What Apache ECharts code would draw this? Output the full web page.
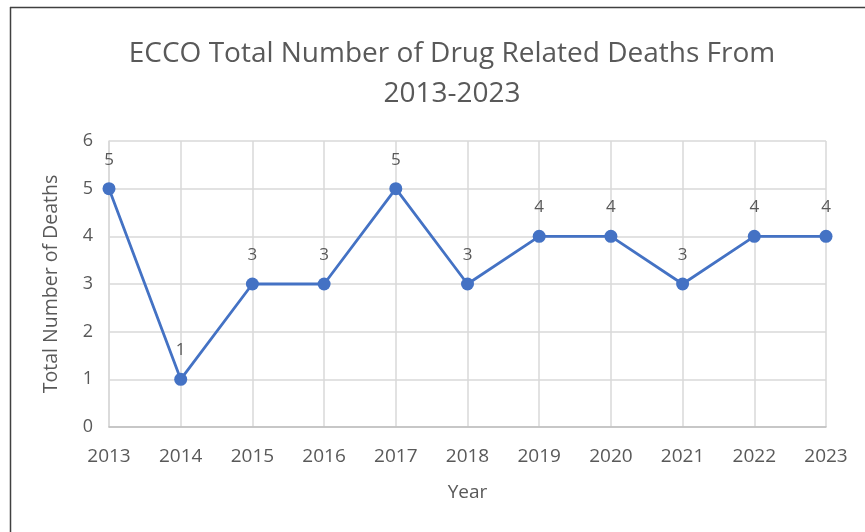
<!DOCTYPE html>
<html>
<head>
<meta charset="utf-8">
<script src="https://cdn.jsdelivr.net/npm/echarts@6/dist/echarts.min.js"></script>
<style>
html,body{margin:0;padding:0;background:#fff;}
#main{width:865px;height:532px;}
</style>
</head>
<body>
<div id="main"></div>
<script>
const years = ['2013','2014','2015','2016','2017','2018','2019','2020','2021','2022','2023'];
const deaths = [5,1,3,3,5,3,4,4,3,4,4];
const yTicks = [0,1,2,3,4,5,6];

const chart = echarts.init(document.getElementById('main'));
const font = '"Open Sans", "Liberation Sans", sans-serif';
chart.setOption({
  animation:false,
  backgroundColor:'#fff',
  textStyle:{fontFamily:font},
  title:{
    text:'ECCO Total Number of Drug Related Deaths From\n2013-2023',
    left:447, top:29, textAlign:'center',
    textStyle:{fontFamily:font, fontSize:28, fontWeight:'normal', color:'#595959', lineHeight:40}
  },
  graphic:[
    {type:'line', shape:{x1:10,y1:7.5,x2:865,y2:7.5}, style:{stroke:'#404040', lineWidth:1.5}},
    {type:'line', shape:{x1:10.5,y1:7,x2:10.5,y2:532}, style:{stroke:'#404040', lineWidth:1.5}}
  ],
  grid:{left:109, right:39, top:141, bottom:105, containLabel:false},
  xAxis:{
    type:'category', data:years, boundaryGap:false,
    name:'Year', nameLocation:'middle', nameGap:56,
    nameTextStyle:{fontFamily:font, fontSize:19, color:'#595959'},
    axisLine:{lineStyle:{color:'#bfbfbf', width:1.5}},
    axisTick:{show:false},
    axisLabel:{fontFamily:font, fontSize:19, color:'#595959', margin:20},
    splitLine:{show:true, lineStyle:{color:'#d9d9d9', width:1.5}}
  },
  yAxis:{
    type:'value', min:yTicks[0], max:yTicks[yTicks.length-1], interval:1,
    name:'Total Number of Deaths', nameLocation:'middle', nameGap:48,
    nameTextStyle:{fontFamily:font, fontSize:19.5, color:'#595959'},
    axisLine:{show:true, lineStyle:{color:'#d9d9d9', width:1.5}},
    axisTick:{show:false},
    axisLabel:{fontFamily:font, fontSize:18, color:'#595959', margin:16},
    splitLine:{show:true, lineStyle:{color:'#d9d9d9', width:1.5}}
  },
  series:[{
    type:'line', data:deaths,
    symbol:'circle', symbolSize:13,
    lineStyle:{color:'#4472C4', width:2.8},
    itemStyle:{color:'#4472C4'},
    label:{show:true, position:'top', distance:14, fontFamily:font, fontSize:17, color:'#595959'}
  }]
});
</script>
</body>
</html>
